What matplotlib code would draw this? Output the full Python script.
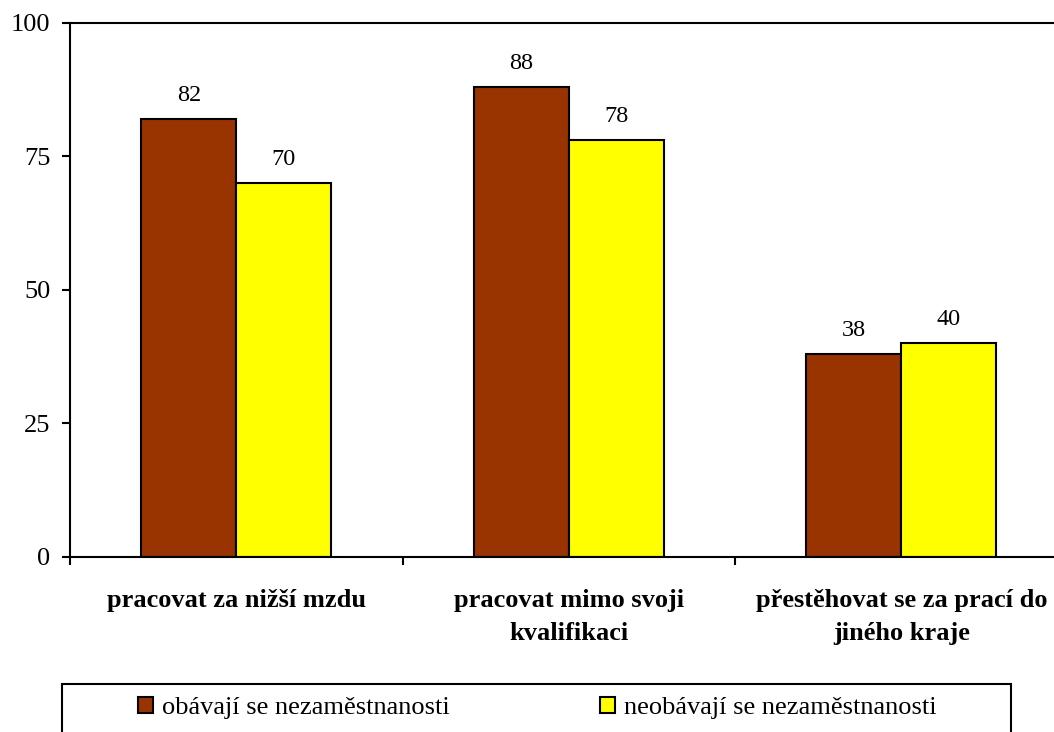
import matplotlib
matplotlib.use("Agg")
import matplotlib.pyplot as plt
from matplotlib.patches import Rectangle
import numpy as np

categories = ["pracovat za nižší mzdu", "pracovat mimo svoji\nkvalifikaci",
              "přestěhovat se za prací do\njiného kraje"]
series_names = ["obávají se nezaměstnanosti", "neobávají se nezaměstnanosti"]
afraid = [82, 88, 38]
not_afraid = [70, 78, 40]
yticks = [0, 25, 50, 75, 100]
colors = ["#993300", "#FFFF00"]

plt.rcParams['font.family'] = ['Liberation Serif', 'DejaVu Serif']

W, H = 1054, 732
fig = plt.figure(figsize=(W / 100, H / 100), dpi=100)
ax = fig.add_axes([70 / W, 1 - 556.7 / H, (1067.5 - 70) / W, (556.7 - 22.5) / H])

x = np.arange(len(categories))
w = 0.2857
b1 = ax.bar(x - w / 2, afraid, w, color=colors[0], edgecolor="black", linewidth=1.5,
            label=series_names[0])
b2 = ax.bar(x + w / 2, not_afraid, w, color=colors[1], edgecolor="black", linewidth=1.5,
            label=series_names[1])

for bars, vals in ((b1, afraid), (b2, not_afraid)):
    for r, v in zip(bars, vals):
        ax.annotate(f"{v}", (r.get_x() + r.get_width() / 2, v), xytext=(0, 13),
                    textcoords="offset points", ha="center", va="baseline", fontsize=17.5)

ax.set_xlim(-0.5, len(categories) - 0.5)
ax.set_ylim(0, 100)
ax.set_yticks(yticks)
ax.set_yticklabels([str(t) for t in yticks], fontsize=19)
ax.tick_params(axis="y", direction="out", length=6, width=1.5, pad=8)

ax.set_xticks(np.arange(-0.5, len(categories), 1.0))
ax.set_xticklabels([])
ax.tick_params(axis="x", which="major", direction="out", length=6, width=1.5)
ax.set_xticks(x, minor=True)
ax.set_xticklabels(categories, minor=True, fontsize=19, fontweight="bold", linespacing=1.55)
ax.tick_params(axis="x", which="minor", length=0, pad=23)

for s in ax.spines.values():
    s.set_linewidth(1.5)

# legend
leg = fig.legend(handles=[b1, b2], labels=series_names, loc="center left",
                 bbox_to_anchor=(138 / W, 1 - 708 / H), ncol=2, frameon=False,
                 fontsize=19, handlelength=0.57, handleheight=0.57, handletextpad=0.34,
                 columnspacing=5.7, borderaxespad=0, borderpad=0)
fig.patches.append(Rectangle((62 / W, -0.05), (1011 - 62) / W, 0.05 + (1 - 684 / H),
                             transform=fig.transFigure, fill=False, edgecolor="black",
                             linewidth=1.5, figure=fig))

fig.savefig("out.png", dpi=100)
